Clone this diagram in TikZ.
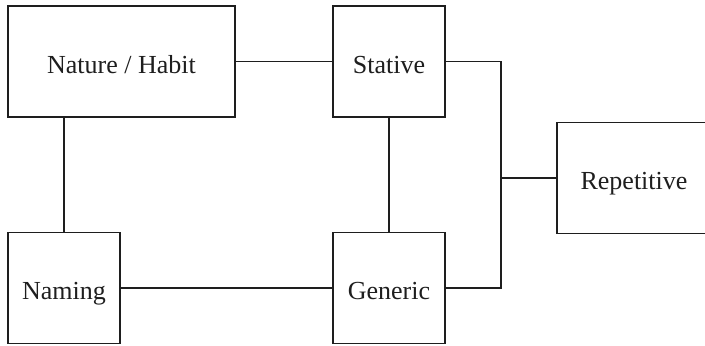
\documentclass[tikz,border=0pt]{standalone}
\usepackage{fontspec}
\setmainfont{Liberation Serif}
\usepackage{tikz}
\usetikzlibrary{calc, positioning}
\definecolor{ForegroundColour}{HTML}{1E1E1E}

\begin{document}
\begin{tikzpicture}[x = 0.025cm, y = -0.025cm, line width = 0.8pt, draw = ForegroundColour,
    box/.style = {draw = ForegroundColour, text = ForegroundColour, minimum width = 2.8cm, minimum height = 2.775cm, inner sep = 0pt, text height = 16.5pt, text depth = 0pt, font = \fontsize{18.5}{21}\selectfont}]

    \useasboundingbox (0, 0) rectangle (705, 346);
    \clip (0, 0) rectangle (705, 346);

    \node[box, minimum width = 5.675cm] (nature)     at (121.5, 61.5) {Nature / Habit};
    \node[box]                          (stative)    at (389  , 61.5) {Stative};
    \node[box]                          (naming)     at (64   , 288 ) {Naming};
    \node[box]                          (generic)    at (389  , 288 ) {Generic};
    \node[box, minimum width = 3.85cm]  (repetitive) at (634  , 178 ) {Repetitive};

    \coordinate (midway)   at ($(stative.east)!0.5!(repetitive.west)$);
    \coordinate (junction) at (midway |- repetitive.west);

    \draw (nature) -- (stative);
    \draw (naming.north) -- (naming.north |- nature.south);
    \draw (stative) -- (generic);
    \draw (naming) -- (generic);
    % both right-hand sides meet before Repetitive
    \draw (stative.east) -| (junction) |- (generic.east);
    \draw (junction) -- (repetitive.west);
\end{tikzpicture}
\end{document}
